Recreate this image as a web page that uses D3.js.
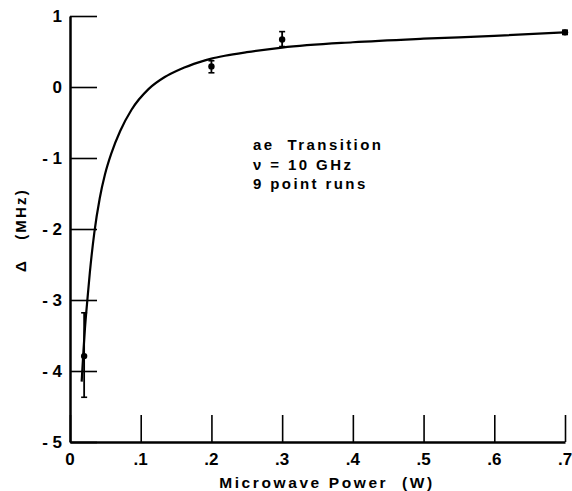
<!DOCTYPE html>
<html>
<head>
<meta charset="utf-8">
<script src="https://cdn.jsdelivr.net/npm/d3@7"></script>
<style>
  html, body { margin: 0; padding: 0; background: #fff; }
  svg { display: block; }
  text { font-family: "Liberation Sans", Arial, sans-serif; font-weight: bold; fill: #000; }
</style>
</head>
<body>
<svg id="chart" width="572" height="491"></svg>
<script>
// ---- data ----
const xTickValues = [0, 0.1, 0.2, 0.3, 0.4, 0.5, 0.6, 0.7];
const xTickLabels = ["0", ".1", ".2", ".3", ".4", ".5", ".6", ".7"];
const yTickValues = [1, 0, -1, -2, -3, -4, -5];
const yTickLabels = ["1", "0", "- 1", "- 2", "- 3", "- 4", "- 5"];

const pointPower = [0.02, 0.2, 0.3, 0.7];
const pointDelta = [-3.79, 0.29, 0.67, 0.77];
const errLow     = [-4.37, 0.20, 0.57, 0.74];
const errHigh    = [-3.18, 0.37, 0.78, 0.80];

const curvePower = [0.0165, 0.019, 0.021, 0.025, 0.028, 0.0344, 0.042, 0.0495, 0.059, 0.071, 0.087, 0.111, 0.134, 0.156, 0.183, 0.2, 0.219, 0.25, 0.3, 0.4, 0.5, 0.6, 0.7];
const curveDelta = [-4.15, -3.72, -3.42, -2.95, -2.62, -2.05, -1.57, -1.23, -0.92, -0.62, -0.32, -0.03, 0.14, 0.25, 0.35, 0.40, 0.44, 0.49, 0.555, 0.63, 0.68, 0.72, 0.77];

const annotation = ["ae  Transition", "\u03BD = 10 GHz", "9 point runs"];
const xTitle = "Microwave Power  (W)";
const yTitle = "\u0394   (MHz)";

// ---- drawing ----
const svg = d3.select("#chart");
const x = d3.scaleLinear().domain([0, 0.7]).range([70, 565]);
const y = d3.scaleLinear().domain([-5, 1]).range([442, 16]);

// x axis (ticks pointing up, inward)
const xAxis = d3.axisBottom(x).tickValues(xTickValues).tickSize(-27).tickSizeOuter(0).tickFormat(() => "");
const gx = svg.append("g").attr("transform", `translate(0,${y(-5)})`).call(xAxis);
gx.select(".domain").attr("stroke", "#000").attr("stroke-width", 2.5);
gx.selectAll(".tick line").attr("stroke", "#000").attr("stroke-width", 1.6);

// y axis (ticks pointing right, inward)
const yAxis = d3.axisLeft(y).tickValues(yTickValues).tickSize(-27).tickSizeOuter(0).tickFormat(() => "");
const gy = svg.append("g").attr("transform", `translate(${x(0)},0)`).call(yAxis);
gy.select(".domain").attr("stroke", "#000").attr("stroke-width", 2.5);
gy.selectAll(".tick line").attr("stroke", "#000").attr("stroke-width", 1.6);

// tick labels
svg.append("g").selectAll("text").data(xTickValues).join("text")
  .attr("x", d => x(d)).attr("y", 465)
  .attr("text-anchor", "middle").attr("font-size", 17)
  .text((d, i) => xTickLabels[i]);

svg.append("g").selectAll("text").data(yTickValues).join("text")
  .attr("x", 62).attr("y", d => y(d) + 6)
  .attr("text-anchor", "end").attr("font-size", 17)
  .attr("xml:space", "preserve")
  .text((d, i) => yTickLabels[i]);

// axis titles
svg.append("text")
  .attr("x", 327).attr("y", 488)
  .attr("text-anchor", "middle").attr("font-size", 15.5)
  .attr("letter-spacing", 2.6)
  .attr("xml:space", "preserve")
  .text(xTitle);

svg.append("text")
  .attr("transform", "translate(26,230) rotate(-90)")
  .attr("text-anchor", "middle").attr("font-size", 15)
  .attr("letter-spacing", 2.2)
  .attr("xml:space", "preserve")
  .text(yTitle);

// fitted curve
const line = d3.line().x((d, i) => x(curvePower[i])).y(d => y(d)).curve(d3.curveMonotoneX);
svg.append("path").datum(curveDelta)
  .attr("d", line).attr("fill", "none").attr("stroke", "#000").attr("stroke-width", 2.2);

// error bars
const eb = svg.append("g");
pointPower.forEach((p, i) => {
  eb.append("line").attr("x1", x(p)).attr("x2", x(p)).attr("y1", y(errLow[i])).attr("y2", y(errHigh[i]))
    .attr("stroke", "#000").attr("stroke-width", 1.8);
  [errLow[i], errHigh[i]].forEach(v => {
    eb.append("line").attr("x1", x(p) - 3).attr("x2", x(p) + 3).attr("y1", y(v)).attr("y2", y(v))
      .attr("stroke", "#000").attr("stroke-width", 1.6);
  });
});

// points
svg.append("g").selectAll("circle").data(pointDelta).join("circle")
  .attr("cx", (d, i) => x(pointPower[i])).attr("cy", d => y(d)).attr("r", 3.2).attr("fill", "#000");

// annotation
svg.append("g").selectAll("text").data(annotation).join("text")
  .attr("x", 253).attr("y", (d, i) => 150 + i * 19.5)
  .attr("font-size", 15).attr("letter-spacing", 2.4)
  .attr("xml:space", "preserve")
  .text(d => d);
</script>
</body>
</html>
